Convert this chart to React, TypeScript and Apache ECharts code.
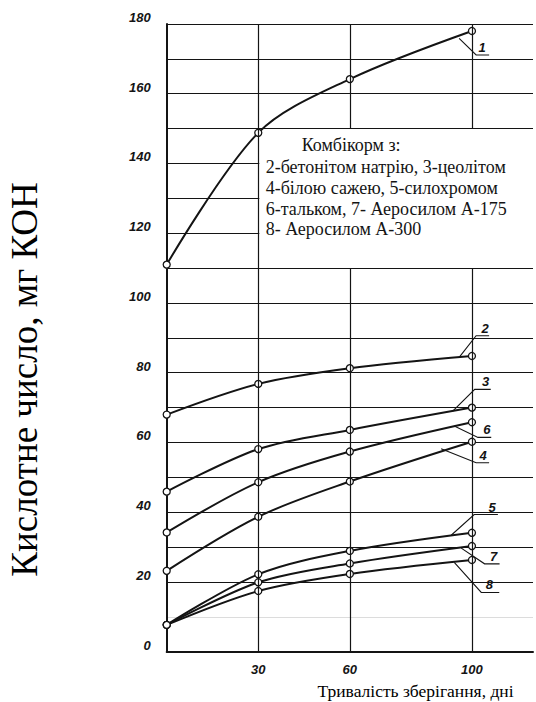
import React, { useEffect, useRef } from 'react';
import * as echarts from 'echarts';

// ---- data ----
const DAYS = [0, 30, 60, 100];
const X_LABEL_DAYS = [30, 60, 100];
const SERIES_NAMES = ['1', '2', '3', '4', '5', '6', '7', '8'];
const S1 = [111, 148.8, 164.2, 178];
const S2 = [68, 76.8, 81.3, 84.8];
const S3 = [45.9, 58.1, 63.6, 70.0];
const S4 = [23.2, 38.7, 48.8, 60.2];
const S5 = [7.7, 22.2, 28.9, 34.1];
const S6 = [34.2, 48.6, 57.4, 65.8];
const S7 = [7.7, 19.9, 25.3, 30.3];
const S8 = [7.7, 17.4, 22.3, 26.3];
const SERIES_VALUES = [S1, S2, S3, S4, S5, S6, S7, S8];
const Y_LABEL_STEP = 20;
const Y_TITLE = 'Кислотне число, мг КОН';
const X_TITLE = 'Тривалість зберігання, дні';
const NOTE_LINES = [
  'Комбікорм з:',
  '2-бетонітом натрію, 3-цеолітом',
  '4-білою сажею, 5-силохромом',
  '6-тальком, 7- Аеросилом А-175',
  '8- Аеросилом А-300',
];
// point on each curve where its numbered tag's leader starts (day, value)
const TAG_NAMES = ['1', '2', '3', '6', '4', '5', '7', '8'];
const TAG_ANCHOR_DAY = [95.8, 95.8, 93.7, 94.2, 89.9, 93.2, 96.5, 94.2];
const TAG_ANCHOR_VALUE = [175.9, 84.4, 69.0, 64.7, 58.2, 33.4, 29.7, 25.6];

// ---- layout (pixels) ----
const TAG_LAYOUT = [
  { dx: 17, dy: 16.7, ul: 13, tx: 6 },
  { dx: 17, dy: -21.7, ul: 13, tx: 9 },
  { dx: 22, dy: -21.7, ul: 16, tx: 11 },
  { dx: 23.7, dy: 11.3, ul: 13.3, tx: 9 },
  { dx: 35, dy: 14, ul: 13, tx: 7 },
  { dx: 23, dy: -20.7, ul: 23.7, tx: 18 },
  { dx: 23.3, dy: 15.7, ul: 15, tx: 9 },
  { dx: 27, dy: 30, ul: 18, tx: 8 },
];
const BOX_DAY = 30;
const BOX_VALUES = [110, 150];
const INK = '#141414';

export default function App() {
  const ref = useRef<HTMLDivElement>(null);

  useEffect(() => {
    if (!ref.current) return;
    const chart = echarts.init(ref.current, null, { renderer: 'svg' });

    const splitColors: string[] = [];
    for (let v = 0; v <= 180; v += 10) splitColors.push(v === 10 ? '#dcdcdc' : INK);

    const numFont = {
      fontFamily: 'Liberation Sans',
      fontStyle: 'italic' as const,
      fontWeight: 'bold' as const,
      fontSize: 13,
      color: INK,
    };

    const gridSegs: any[] = [];
    X_LABEL_DAYS.forEach((d) => {
      if (d > BOX_DAY) {
        gridSegs.push([{ coord: [d, 0] }, { coord: [d, BOX_VALUES[0]] }]);
        gridSegs.push([{ coord: [d, BOX_VALUES[1]] }, { coord: [d, 180] }]);
      } else {
        gridSegs.push([{ coord: [d, 0] }, { coord: [d, 180] }]);
      }
    });

    const series: any[] = SERIES_NAMES.map((name, i) => ({
      name,
      type: 'line',
      data: DAYS.map((d, j) => [d, SERIES_VALUES[i][j]]),
      smooth: 0.32,
      symbol: 'circle',
      symbolSize: 7,
      showSymbol: true,
      lineStyle: { color: INK, width: 2 },
      itemStyle: { color: '#fff', borderColor: INK, borderWidth: 1.3 },
      emphasis: { disabled: true },
      z: 3,
      markLine:
        i === 0
          ? {
              silent: true,
              symbol: ['none', 'none'],
              label: { show: false },
              lineStyle: { color: INK, width: 1.2, type: 'solid' },
              emphasis: { disabled: true },
              data: gridSegs,
            }
          : undefined,
    }));

    chart.setOption({
      animation: false,
      backgroundColor: '#fff',
      grid: { left: 166.7, right: 0, top: 24, bottom: 50.3 },
      xAxis: {
        type: 'value',
        min: 0,
        max: 120,
        interval: 10,
        axisLine: { show: true, lineStyle: { color: INK, width: 2 } },
        axisTick: { show: false },
        splitLine: { show: false },
        axisLabel: {
          ...numFont,
          margin: 11,
          formatter: (v: number) => (X_LABEL_DAYS.includes(v) ? String(v) : ''),
        },
      },
      yAxis: {
        type: 'value',
        min: 0,
        max: 180,
        interval: 10,
        axisLine: { show: true, lineStyle: { color: INK, width: 2 } },
        axisTick: { show: false },
        splitLine: { show: true, lineStyle: { color: splitColors, width: 1.2 } },
        axisLabel: {
          ...numFont,
          margin: 16,
          verticalAlign: 'bottom',
          formatter: (v: number) => (v % Y_LABEL_STEP === 0 ? String(v) : ''),
        },
      },
      series,
    });

    const px = (d: number, v: number) => chart.convertToPixel({ gridIndex: 0 }, [d, v]) as number[];
    const boxTL = px(BOX_DAY, BOX_VALUES[1]);
    const boxBR = px(120, BOX_VALUES[0]);

    const elements: any[] = [];
    elements.push({
      type: 'rect',
      z: 1,
      silent: true,
      shape: { x: boxTL[0] + 1, y: boxTL[1] + 1, width: boxBR[0] - boxTL[0], height: boxBR[1] - boxTL[1] - 2 },
      style: { fill: '#fff' },
    });
    const noteX = [301.7, 265.7, 265.7, 265.7, 265.7];
    const noteY = [145, 166.7, 188.3, 209, 229.3];
    NOTE_LINES.forEach((t, i) => {
      elements.push({
        type: 'text',
        z: 10,
        x: noteX[i],
        y: noteY[i],
        style: {
          text: t,
          fontFamily: 'Liberation Serif',
          fontSize: 18,
          fill: INK,
          align: 'left',
          verticalAlign: 'middle',
        },
      });
    });
    TAG_NAMES.forEach((name, i) => {
      const a = px(TAG_ANCHOR_DAY[i], TAG_ANCHOR_VALUE[i]);
      const L = TAG_LAYOUT[i];
      const ex = a[0] + L.dx;
      const ey = a[1] + L.dy;
      elements.push({
        type: 'polyline',
        z: 10,
        silent: true,
        shape: { points: [[a[0], a[1]], [ex, ey], [ex + L.ul, ey]] },
        style: { stroke: INK, lineWidth: 1.1, fill: 'none' },
      });
      elements.push({
        type: 'text',
        z: 10,
        x: ex + L.tx,
        y: ey - 1,
        style: {
          text: name,
          fontFamily: 'Liberation Sans',
          fontStyle: 'italic',
          fontWeight: 'bold',
          fontSize: 13,
          fill: INK,
          align: 'center',
          verticalAlign: 'bottom',
        },
      });
    });
    elements.push({
      type: 'text',
      z: 10,
      x: 24,
      y: 379.5,
      rotation: Math.PI / 2,
      style: {
        text: Y_TITLE,
        fontFamily: 'Liberation Serif',
        fontSize: 37,
        fill: '#000',
        align: 'center',
        verticalAlign: 'middle',
      },
    });
    elements.push({
      type: 'text',
      z: 10,
      x: 415.5,
      y: 691,
      style: {
        text: X_TITLE,
        fontFamily: 'Liberation Serif',
        fontSize: 17.5,
        fill: '#000',
        align: 'center',
        verticalAlign: 'middle',
      },
    });

    chart.setOption({ graphic: { elements } });

    return () => chart.dispose();
  }, []);

  return (
    <div
      ref={ref}
      style={{ position: 'fixed', left: 0, top: 0, width: 536, height: 702, background: '#fff' }}
    />
  );
}
